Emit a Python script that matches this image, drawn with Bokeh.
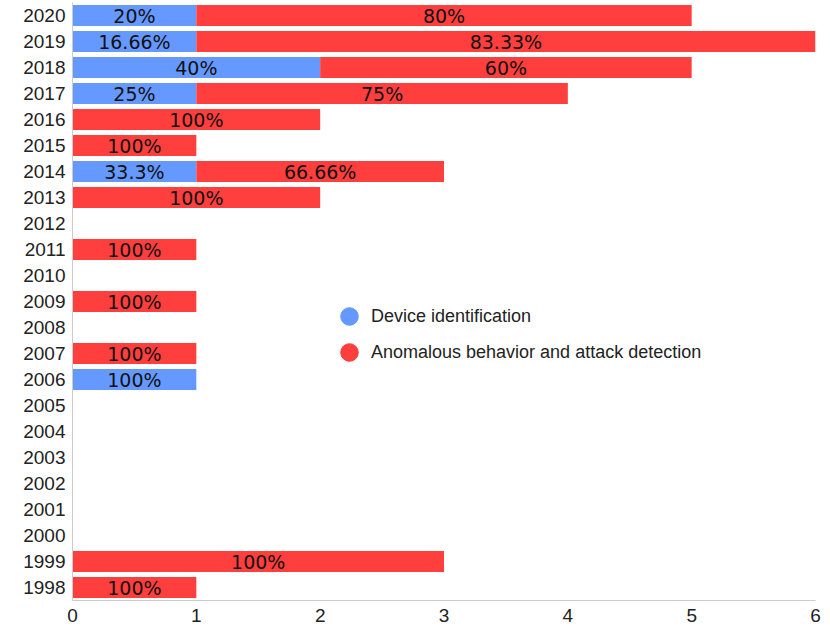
from bokeh.plotting import figure
from bokeh.models import ColumnDataSource, Legend, LegendItem, FactorRange
from bokeh.core.properties import value
from bokeh.embed import file_html
from bokeh.resources import INLINE

years = [str(y) for y in range(1998, 2021)]

device_years = ["2020", "2019", "2018", "2017", "2014", "2006"]
device_counts = [1, 1, 2, 1, 1, 1]
device_labels = ["20%", "16.66%", "40%", "25%", "33.3%", "100%"]

anom_years = ["2020", "2019", "2018", "2017", "2016", "2015", "2014", "2013",
              "2011", "2009", "2007", "1999", "1998"]
anom_counts = [4, 5, 3, 3, 2, 1, 2, 2, 1, 1, 1, 3, 1]
anom_labels = ["80%", "83.33%", "60%", "75%", "100%", "100%", "66.66%", "100%",
               "100%", "100%", "100%", "100%", "100%"]

series_names = ["Device identification", "Anomalous behavior and attack detection"]

BLUE = "#6699FF"
RED = "#FF3E3E"

dev_map = dict(zip(device_years, device_counts))

dev_src = ColumnDataSource(dict(
    y=device_years,
    left=[0] * len(device_years),
    right=device_counts,
    mid=[c / 2 for c in device_counts],
    label=device_labels,
))
anom_left = [dev_map.get(y, 0) for y in anom_years]
anom_src = ColumnDataSource(dict(
    y=anom_years,
    left=anom_left,
    right=[l + c for l, c in zip(anom_left, anom_counts)],
    mid=[l + c / 2 for l, c in zip(anom_left, anom_counts)],
    label=anom_labels,
))

p = figure(width=822, height=631, y_range=FactorRange(*years), x_range=(0, 6),
           output_backend="svg", toolbar_location=None,
           min_border_left=72, min_border_right=7, min_border_top=2, min_border_bottom=31)
p.outline_line_color = None
p.xgrid.grid_line_color = None
p.ygrid.grid_line_color = None

p.hbar(y="y", left="left", right="right", height=0.8, source=dev_src,
       fill_color=BLUE, line_color=None)
p.hbar(y="y", left="left", right="right", height=0.8, source=anom_src,
       fill_color=RED, line_color=None)

for src in (dev_src, anom_src):
    p.text(x="mid", y="y", text="label", source=src, text_align="center",
           text_baseline="middle", text_font=value("DejaVu Sans"),
           text_font_size="19px", text_color="#111111")

r_dev = p.scatter(x=[float("nan")], y=["2020"], size=20, marker="circle",
                  fill_color=BLUE, line_color=BLUE)
r_anom = p.scatter(x=[float("nan")], y=["2020"], size=20, marker="circle",
                   fill_color=RED, line_color=RED)

for name, rend, loc in ((series_names[0], r_dev, (255, 259)),
                        (series_names[1], r_anom, (255, 223))):
    lg = Legend(items=[LegendItem(label=name, renderers=[rend])], location=loc)
    lg.border_line_color = None
    lg.background_fill_alpha = 0
    lg.padding = 0
    lg.margin = 0
    lg.spacing = 0
    lg.glyph_width = 44
    lg.glyph_height = 50
    lg.label_height = 20
    lg.label_standoff = 0
    lg.label_text_font = "Liberation Sans"
    lg.label_text_font_size = "18px"
    lg.label_text_color = "#222222"
    p.add_layout(lg)

for ax in (p.xaxis, p.yaxis):
    ax.axis_line_color = "#cccccc"
    ax.major_tick_line_color = None
    ax.minor_tick_line_color = None
    ax.major_label_text_font = "Liberation Sans"
    ax.major_label_text_font_size = "19px"
    ax.major_label_text_color = "#222222"
p.yaxis.major_label_standoff = 1
p.xaxis.major_label_standoff = 2
p.xaxis.ticker = [0, 1, 2, 3, 4, 5, 6]

open("out.html", "w").write(file_html(p, INLINE))
